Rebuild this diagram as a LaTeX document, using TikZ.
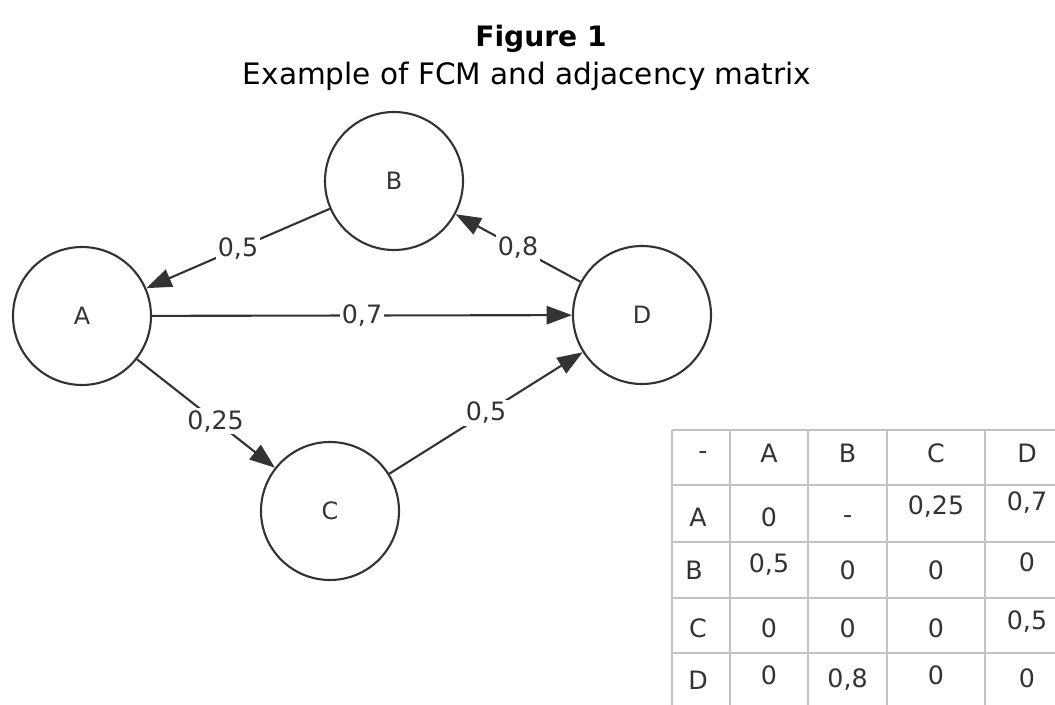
\documentclass[tikz,border=0pt]{standalone}
\usepackage{fontspec}
\setmainfont{DejaVu Sans}
\usetikzlibrary{arrows.meta}

\tikzset{
	concept/.style = {circle, draw = black!80, line width = 1.5pt, minimum size = 3.45cm, inner sep = 0pt, text = black!80, font = \fontsize{17}{20}\selectfont},
	weight/.style = {fill = white, inner sep = 1.5pt, text = black!80, font = \fontsize{18}{21}\selectfont},
	link/.style = {draw = black!80, line width = 1.5pt, -{Triangle[length = 18pt, width = 13pt]}},
	grid line/.style = {draw = black!24, line width = 1.6pt},
	cell/.style = {inner sep = 0pt, text = black!80, font = \fontsize{18}{21}\selectfont}
}

\begin{document}
\begin{tikzpicture}

\clip (0, 0) rectangle (26.375, 17.6);
\fill[white] (0, 0) rectangle (26.375, 17.6);

% caption
\node[anchor = base, font = \bfseries\fontsize{20}{24}\selectfont] (title) at (13.525, 16.425) {Figure 1};
\node[anchor = base, font = \fontsize{21}{25}\selectfont] (subtitle) at (13.175, 15.475) {Example of FCM and adjacency matrix};

% concepts
\node[concept] (A) at (2.05, 9.7) {A};
\node[concept] (B) at (9.85, 13.075) {B};
\node[concept] (C) at (8.25, 4.825) {C};
\node[concept] (D) at (16.05, 9.725) {D};

% weighted links
\draw[link] (B) -- node[weight, midway] (wBA) {0,5} (A);
\draw[link] (A) -- node[weight, midway] (wAD) {0,7} (D);
\draw[link] (D) -- node[weight, midway] (wDB) {0,8} (B);
\draw[link] (A) -- node[weight, pos = 0.57] (wAC) {0,25} (C);
\draw[link] (C) -- node[weight, midway] (wCD) {0,5} (D);

% adjacency matrix
\draw[grid line] (16.8, 6.85) -- (27, 6.85);
\draw[grid line] (16.8, 5.475) -- (27, 5.475);
\draw[grid line] (16.8, 4.05) -- (27, 4.05);
\draw[grid line] (16.8, 2.65) -- (27, 2.65);
\draw[grid line] (16.8, 1.275) -- (27, 1.275);
\draw[grid line] (16.8, 6.85) -- (16.8, -0.5);
\draw[grid line] (18.25, 6.85) -- (18.25, -0.5);
\draw[grid line] (20.2, 6.85) -- (20.2, -0.5);
\draw[grid line] (22.175, 6.85) -- (22.175, -0.5);
\draw[grid line] (24.625, 6.85) -- (24.625, -0.5);

\node[cell] (m00) at (17.575, 6.2) {-};
\node[cell] (m01) at (19.225, 6.275) {A};
\node[cell] (m02) at (21.19, 6.275) {B};
\node[cell] (m03) at (23.4, 6.275) {C};
\node[cell] (m04) at (25.675, 6.275) {D};

\node[cell] (m10) at (17.45, 4.675) {A};
\node[cell] (m11) at (19.225, 4.675) {0};
\node[cell] (m12) at (21.19, 4.6) {-};
\node[cell] (m13) at (23.4, 4.925) {0,25};
\node[cell] (m14) at (25.675, 5.025) {0,7};

\node[cell] (m20) at (17.35, 3.35) {B};
\node[cell] (m21) at (19.225, 3.475) {0,5};
\node[cell] (m22) at (21.19, 3.35) {0};
\node[cell] (m23) at (23.4, 3.35) {0};
\node[cell] (m24) at (25.675, 3.55) {0};

\node[cell] (m30) at (17.45, 1.9) {C};
\node[cell] (m31) at (19.225, 1.9) {0};
\node[cell] (m32) at (21.19, 1.9) {0};
\node[cell] (m33) at (23.4, 1.9) {0};
\node[cell] (m34) at (25.675, 2.05) {0,5};

\node[cell] (m40) at (17.45, 0.6) {D};
\node[cell] (m41) at (19.225, 0.725) {0};
\node[cell] (m42) at (21.19, 0.6) {0,8};
\node[cell] (m43) at (23.4, 0.725) {0};
\node[cell] (m44) at (25.675, 0.65) {0};

\end{tikzpicture}
\end{document}
